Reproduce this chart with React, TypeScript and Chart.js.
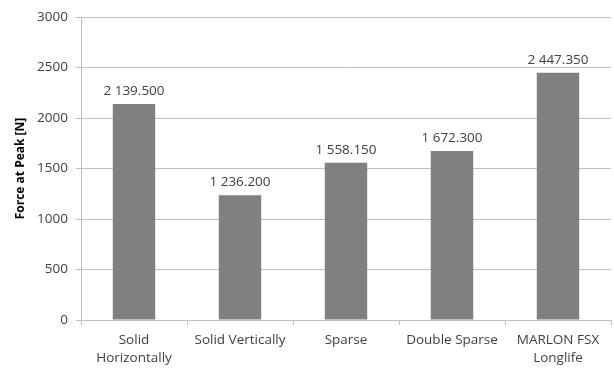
import React, { useEffect, useRef } from "react";
import { Chart, registerables } from "chart.js";

Chart.register(...registerables);

const categories: (string | string[])[] = [
  ["Solid", "Horizontally"],
  "Solid Vertically",
  "Sparse",
  "Double Sparse",
  ["MARLON FSX", "Longlife"],
];
const forceAtPeak: number[] = [2139.5, 1236.2, 1558.15, 1672.3, 2447.35];
const yTicks: number[] = [0, 500, 1000, 1500, 2000, 2500, 3000];

const FONT = "'Open Sans', Lato, sans-serif";
const TEXT = "#404040";

function formatValue(v: number): string {
  const [intPart, dec] = v.toFixed(3).split(".");
  const grouped = intPart.replace(/\B(?=(\d{3})+(?!\d))/g, " ");
  return `${grouped}.${dec}`;
}

const valueLabels = {
  id: "valueLabels",
  afterDatasetsDraw(chart: any) {
    const ctx = chart.ctx;
    const meta = chart.getDatasetMeta(0);
    ctx.save();
    ctx.font = `13.5px ${FONT}`;
    ctx.fillStyle = TEXT;
    ctx.textAlign = "center";
    ctx.textBaseline = "bottom";
    meta.data.forEach((bar: any, i: number) => {
      ctx.fillText(formatValue(forceAtPeak[i]), bar.x, bar.y - 6);
    });
    ctx.restore();
  },
};

export default function App() {
  const canvasRef = useRef<HTMLCanvasElement | null>(null);

  useEffect(() => {
    if (!canvasRef.current) return;
    const chart = new Chart(canvasRef.current, {
      type: "bar",
      data: {
        labels: categories,
        datasets: [
          {
            data: forceAtPeak,
            backgroundColor: "#808080",
            borderWidth: 0,
            barPercentage: 0.4,
            categoryPercentage: 1,
          },
        ],
      },
      options: {
        animation: false,
        responsive: false,
        maintainAspectRatio: false,
        layout: { padding: { left: 0, top: 17, right: 3, bottom: 0 } },
        plugins: {
          legend: { display: false },
          tooltip: { enabled: false },
        },
        scales: {
          x: {
            grid: {
              display: true,
              drawOnChartArea: false,
              drawTicks: true,
              tickLength: 5,
              color: "#bfbfbf",
              offset: true,
            },
            border: { color: "#bfbfbf" },
            ticks: {
              color: TEXT,
              font: { family: FONT, size: 13.5, lineHeight: 1.35 },
              maxRotation: 0,
              autoSkip: false,
              padding: 6,
            },
            afterFit(scale: any) {
              scale.height = 48;
            },
          },
          y: {
            min: 0,
            max: 3000,
            afterBuildTicks(scale: any) {
              scale.ticks = yTicks.map((v) => ({ value: v }));
            },
            grid: {
              color: "#bfbfbf",
              tickLength: 5,
            },
            border: { color: "#bfbfbf" },
            ticks: {
              color: TEXT,
              font: { family: FONT, size: 13.5 },
              padding: 8,
              callback: (v: any) => String(v),
            },
            title: {
              display: true,
              text: "Force at Peak [N]",
              color: "#000000",
              font: { family: FONT, size: 12, weight: "bold" },
              padding: { top: 13, bottom: 4 },
            },
            afterFit(scale: any) {
              scale.width = 81;
            },
          },
        },
      },
      plugins: [valueLabels],
    });
    return () => chart.destroy();
  }, []);

  return (
    <div style={{ position: "absolute", left: 0, top: 0, width: 614, height: 368, background: "#fff" }}>
      <canvas ref={canvasRef} width={614} height={368} style={{ display: "block" }} />
    </div>
  );
}
